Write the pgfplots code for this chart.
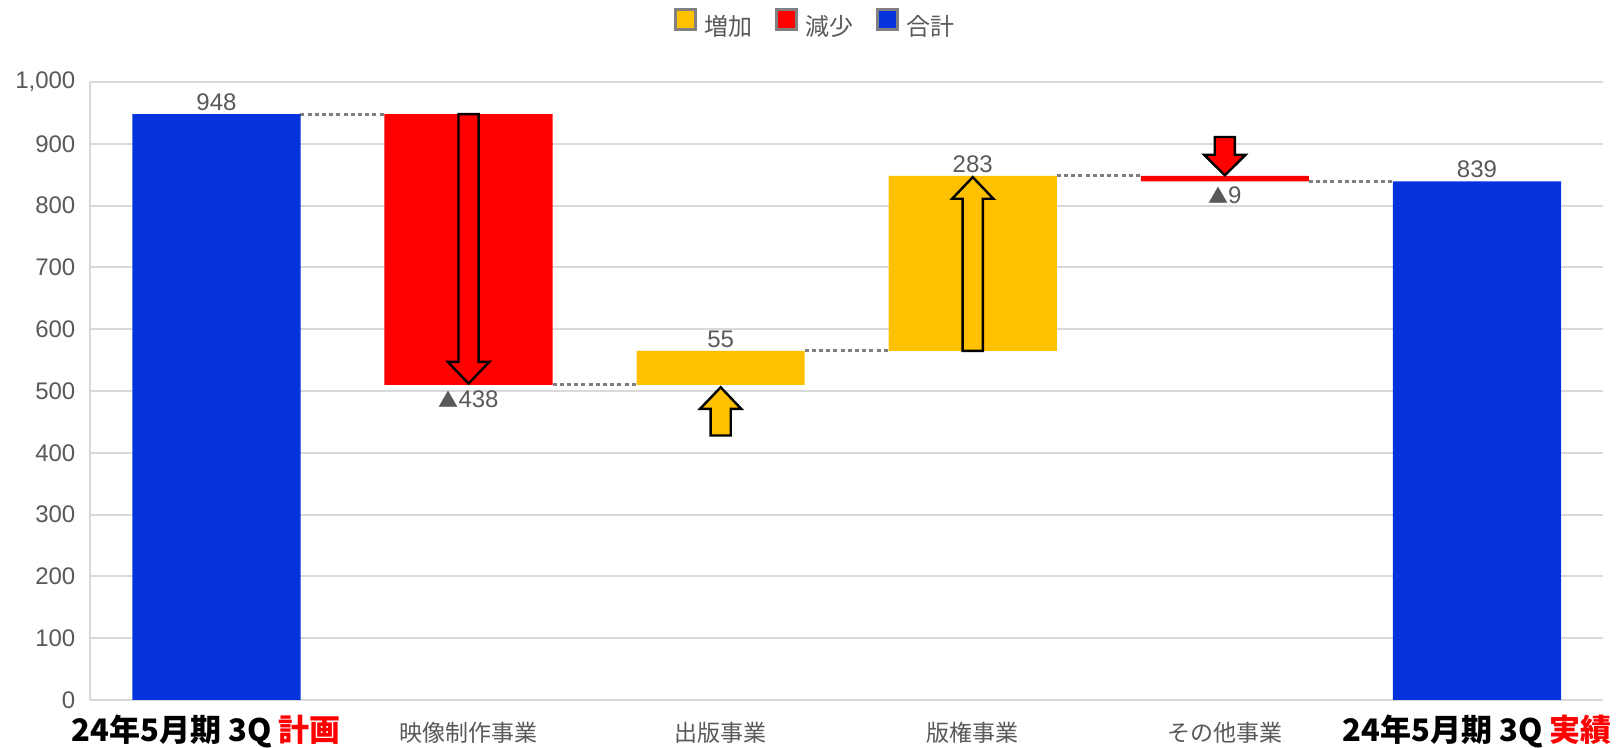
\documentclass[border=0pt]{standalone}
\usepackage{fontspec}
\setmainfont{Liberation Sans}
\newfontfamily\cjk{Noto Sans CJK JP}
\usepackage{pgfplots}
\usepackage{pgfplotstable}
\pgfplotsset{compat=1.18}
\definecolor{cblue}{HTML}{0433DE}
\definecolor{cred}{HTML}{FF0000}
\definecolor{cyel}{HTML}{FFC000}
\definecolor{tgray}{HTML}{595959}
\definecolor{ggray}{HTML}{D9D9D9}
\definecolor{dgray}{HTML}{7F7F7F}
\definecolor{lgray}{HTML}{808080}

\pgfplotstableread{
x base inc dec total
0 0 0 0 948
1 510 0 438 0
2 510 55 0 0
3 565 283 0 0
4 839 0 9 0
5 0 0 0 839
}\wf

\pgfplotsset{arrowstyle/.style={sharp plot, stack plots=false, forget plot, on layer=axis foreground, draw=black, line width=1.2pt, line join=miter, fill=#1},
  conn/.style={sharp plot, stack plots=false, forget plot, dgray, line width=1.5pt, dash pattern=on 2pt off 1.6pt}}

\begin{document}
\begin{tikzpicture}
\begin{axis}[
  name=ax,
  at={(0,0)}, anchor=south west,
  scale only axis,
  set layers,
  width=756.3pt, height=309pt,
  ybar stacked,
  bar width=0.667,
  xmin=-0.5, xmax=5.5,
  ymin=0, ymax=1000,
  ytick={0,100,...,1000},
  xtick={0,1,2,3,4,5},
  xticklabels={
    {\hspace*{-10pt}\cjk\bfseries\color{black}\fontsize{15.5}{16}\selectfont 24年5月期 3Q \textcolor{cred}{計画}},
    映像制作事業, 出版事業, 版権事業, その他事業,
    {\cjk\bfseries\color{black}\fontsize{15.5}{16}\selectfont 24年5月期 3Q \textcolor{cred}{実績}}},
  xticklabel style={font=\cjk\fontsize{11.5}{12}\selectfont, text=tgray, anchor=base, yshift=-21pt},
  yticklabel style={font=\fontsize{12}{13}\selectfont, text=tgray, xshift=-4pt},
  /pgf/number format/assume math mode=true,
  /pgf/number format/1000 sep={,},
  major tick length=0pt,
  ymajorgrids,
  grid style={ggray, line width=1pt},
  axis x line*=bottom, axis y line*=left,
  axis line style={ggray, line width=1pt, -},
  legend columns=-1,
  legend style={draw=none, at={(0.48,1.092)}, anchor=center,
    font=\cjk\fontsize{12}{13}\selectfont, text=tgray,
    /tikz/every odd column/.append style={column sep=2pt},
    /tikz/every even column/.append style={column sep=9pt}},
  legend image code/.code={\draw[#1, draw=lgray, line width=1.5pt] (0.75pt,-1pt) rectangle (10.75pt,9pt);},
  clip=false,
]
\addplot[draw=none, fill=none, forget plot] table[x=x, y=base] {\wf};
\addplot[draw=none, fill=cyel] table[x=x, y=inc] {\wf};
\addplot[draw=none, fill=cred] table[x=x, y=dec] {\wf};
\addplot[draw=none, fill=cblue] table[x=x, y=total] {\wf};
\legend{増加, 減少, 合計}

\addplot[conn] coordinates {(0.333,948) (0.667,948)};
\addplot[conn] coordinates {(1.333,510) (1.667,510)};
\addplot[conn] coordinates {(2.333,565) (2.667,565)};
\addplot[conn] coordinates {(3.333,848) (3.667,848)};
\addplot[conn] coordinates {(4.333,839) (4.667,839)};

% block arrows (shaft half width 0.04, head half width 0.082)
\addplot[arrowstyle=cred] coordinates {(0.96,948) (1.04,948) (1.04,547) (1.082,547) (1,512) (0.918,547) (0.96,547)} -- cycle;
\addplot[arrowstyle=cyel] coordinates {(1.96,428) (2.04,428) (2.04,471) (2.082,471) (2,506) (1.918,471) (1.96,471)} -- cycle;
\addplot[arrowstyle=cyel] coordinates {(2.96,565) (3.04,565) (3.04,811) (3.082,811) (3,846) (2.918,811) (2.96,811)} -- cycle;
\addplot[arrowstyle=cred] coordinates {(3.96,911) (4.04,911) (4.04,882) (4.082,882) (4,849) (3.918,882) (3.96,882)} -- cycle;

\tikzset{lab/.style={font=\fontsize{12}{13}\selectfont, text=tgray, inner sep=1.5pt}}
\node[lab, anchor=south] at (axis cs:0,948) {948};
\node[lab, anchor=north] at (axis cs:1,506) {{\cjk\fontsize{10}{12}\selectfont ▲}438};
\node[lab, anchor=south] at (axis cs:2,565) {55};
\node[lab, anchor=south] at (axis cs:3,848) {283};
\node[lab, anchor=north] at (axis cs:4,836) {{\cjk\fontsize{10}{12}\selectfont ▲}9};
\node[lab, anchor=south] at (axis cs:5,839) {839};
\end{axis}
\pgfresetboundingbox
\path (ax.south west) ++(-45.2pt,-24pt) rectangle ++(808pt,374pt);
\end{tikzpicture}
\end{document}
